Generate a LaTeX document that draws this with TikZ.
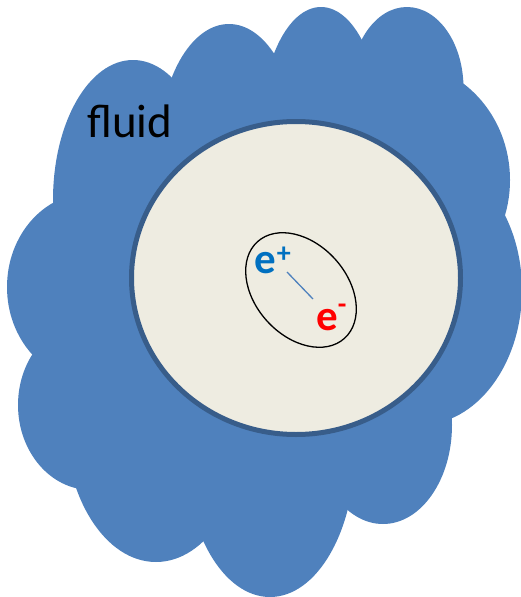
\documentclass[tikz,border=0pt]{standalone}
\usepackage{fontspec}
\setmainfont{Carlito}
\usepackage{tikz}
\usetikzlibrary{positioning}
\definecolor{cloudblue}{HTML}{4F81BD}
\definecolor{rimblue}{HTML}{385D8A}
\definecolor{bubblefill}{HTML}{EEECE1}
\definecolor{posblue}{HTML}{0070C0}
\definecolor{elecred}{HTML}{FF0000}

\begin{document}
\begin{tikzpicture}[x=1pt,y=-1pt,
  lobe/.style={fill=cloudblue},
  charge/.style={inner sep=0pt,anchor=base west,font=\fontsize{43}{45}\selectfont\bfseries}]
\useasboundingbox (0,0) rectangle (520,597);
% cloud made of lobes
\fill[lobe] (280,300) ellipse (200 and 200);
\fill[lobe] (133,200) ellipse (80 and 140);
\fill[lobe] (229,150) ellipse (70 and 126);
\fill[lobe] (321,130) ellipse (60 and 123);
\fill[lobe] (407,88) ellipse (56.5 and 81);
\fill[lobe] (400,180) ellipse (110 and 118);
\fill[lobe] (420,290) ellipse (102 and 135);
\fill[lobe] (383,425) ellipse (69 and 99);
\fill[lobe] (270,450) ellipse (85 and 147);
\fill[lobe] (156,420) ellipse (91 and 142);
\fill[lobe] (91,405) ellipse (73 and 85);
\fill[lobe] (90,287) ellipse (83 and 94);
% cavity
\draw[line width=5pt,draw=rimblue,fill=bubblefill] (296,278) ellipse (164.5 and 156.5);
% pair
\draw[line width=1.3pt,rotate around={-48:(301,290)}] (301,290) ellipse (65 and 46);
\node[charge,text=posblue] (pos) at (254,273) {e\kern1pt{\fontsize{28}{30}\selectfont\raisebox{11pt}{+}}};
\node[charge,text=elecred] (ele) at (316,330) {e{\fontsize{28}{30}\selectfont\raisebox{17pt}{-}}};
\coordinate (bondA) at (287,272);
\coordinate (bondB) at (313,299);
\draw[cloudblue,line width=1.3pt] (bondA) -- (bondB);
\node[inner sep=0pt,anchor=base west,font=\fontsize{47}{50}\selectfont] (fluid) at (87,137) {fluid};
\end{tikzpicture}
\end{document}
